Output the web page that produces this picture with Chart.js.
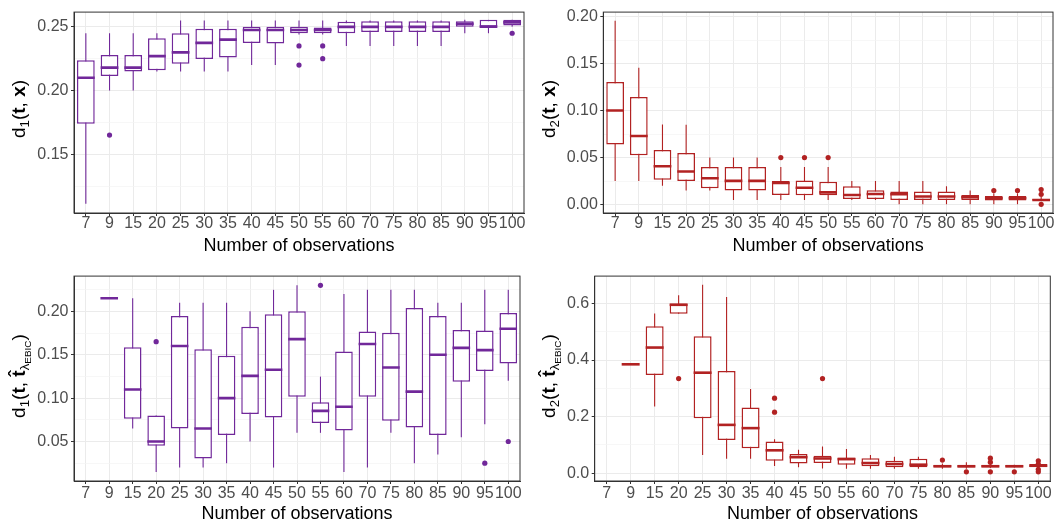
<!DOCTYPE html>
<html>
<head>
<meta charset="utf-8">
<script src="https://cdn.jsdelivr.net/npm/chart.js@4/dist/chart.umd.min.js"></script>
<style>
body { margin: 0; background: #fff; }
#wrap { position: relative; width: 1057px; height: 528px; }
canvas { position: absolute; }
.yt {
  position: absolute; white-space: nowrap; color: #000;
  font-family: "Liberation Sans", Arial, sans-serif; font-size: 19px;
  transform: translate(-50%, -50%) rotate(-90deg);
}
.yt sub { font-size: 0.7em; vertical-align: -0.3em; }
.yt sub sub { font-size: 0.75em; vertical-align: -0.2em; }
</style>
</head>
<body>
<div id="wrap">
  <canvas id="c1" width="528" height="264" style="left:0;top:0"></canvas>
  <canvas id="c2" width="529" height="264" style="left:528px;top:0"></canvas>
  <canvas id="c3" width="528" height="264" style="left:0;top:264px"></canvas>
  <canvas id="c4" width="529" height="264" style="left:528px;top:264px"></canvas>
  <div class="yt" style="left:20px;top:109px">d<sub>1</sub>(<b>t</b>, <b>x</b>)</div>
  <div class="yt" style="left:550px;top:109px">d<sub>2</sub>(<b>t</b>, <b>x</b>)</div>
  <div class="yt" style="left:20px;top:376px">d<sub>1</sub>(<b>t</b>, <b>t&#770;</b><sub>λ<sub>EBIC</sub></sub>)</div>
  <div class="yt" style="left:550px;top:376px">d<sub>2</sub>(<b>t</b>, <b>t&#770;</b><sub>λ<sub>EBIC</sub></sub>)</div>
</div>
<script>
var cats = ['7', '9', '15', '20', '25', '30', '35', '40', '45', '50', '55', '60', '70', '75', '80', '85', '90', '95', '100'];

// d1(t, x)
var d1xLo  = [0.111, 0.200, 0.200, 0.215, 0.215, 0.215, 0.215, 0.220, 0.220, 0.244, 0.244, 0.235, 0.235, 0.235, 0.235, 0.235, 0.245, 0.245, 0.250];
var d1xQ1  = [0.174, 0.2114, 0.215, 0.216, 0.221, 0.2247, 0.226, 0.2374, 0.237, 0.245, 0.245, 0.245, 0.246, 0.246, 0.246, 0.246, 0.250, 0.250, 0.251];
var d1xMed = [0.210, 0.218, 0.218, 0.227, 0.230, 0.2374, 0.240, 0.2475, 0.2475, 0.2475, 0.2475, 0.250, 0.250, 0.250, 0.250, 0.250, 0.2525, 0.2502, 0.2535];
var d1xQ3  = [0.2237, 0.228, 0.228, 0.241, 0.245, 0.2485, 0.2485, 0.250, 0.250, 0.250, 0.2495, 0.254, 0.2545, 0.2545, 0.2545, 0.2545, 0.2545, 0.2555, 0.2555];
var d1xHi  = [0.245, 0.245, 0.245, 0.245, 0.255, 0.255, 0.255, 0.255, 0.255, 0.255, 0.255, 0.255, 0.255, 0.255, 0.255, 0.255, 0.2555, 0.2555, 0.2555];
var d1xOutCat = ['9', '50', '50', '55', '55', '100'];
var d1xOutVal = [0.165, 0.235, 0.220, 0.235, 0.225, 0.245];

// d2(t, x)
var d2xLo  = [0.025, 0.025, 0.020, 0.015, 0.015, 0.005, 0.005, 0.005, 0.005, 0.005, 0.005, 0.005, 0.0005, 0.0005, 0.0005, 0.0005, 0.0005, 0.0005, 0.004];
var d2xQ1  = [0.064, 0.0524, 0.0264, 0.025, 0.0175, 0.015, 0.015, 0.0103, 0.010, 0.010, 0.006, 0.006, 0.005, 0.005, 0.005, 0.005, 0.0045, 0.0045, 0.0045];
var d2xMed = [0.100, 0.073, 0.0408, 0.0353, 0.028, 0.0253, 0.0253, 0.023, 0.018, 0.013, 0.0103, 0.0113, 0.011, 0.0086, 0.0086, 0.0079, 0.0068, 0.0068, 0.005];
var d2xQ3  = [0.1305, 0.1144, 0.058, 0.055, 0.040, 0.040, 0.040, 0.025, 0.0257, 0.0243, 0.0195, 0.0154, 0.014, 0.014, 0.014, 0.0103, 0.0092, 0.0092, 0.006];
var d2xHi  = [0.1955, 0.1455, 0.0853, 0.085, 0.050, 0.050, 0.050, 0.040, 0.040, 0.040, 0.025, 0.025, 0.025, 0.025, 0.0195, 0.015, 0.012, 0.012, 0.008];
var d2xOutCat = ['40', '45', '50', '90', '95', '100', '100', '100'];
var d2xOutVal = [0.050, 0.050, 0.050, 0.015, 0.015, 0.016, 0.011, 0.0003];

// d1(t, t_hat lambda EBIC)
var d1eLo  = [null, 0.215, 0.065, 0.015, 0.020, 0.020, 0.025, 0.050, 0.020, 0.060, 0.060, 0.015, 0.020, 0.060, 0.025, 0.035, 0.055, 0.070, 0.120];
var d1eQ1  = [null, 0.215, 0.0763, 0.0451, 0.065, 0.0305, 0.0575, 0.0816, 0.0778, 0.1015, 0.0714, 0.0628, 0.1015, 0.074, 0.0662, 0.0575, 0.1188, 0.1312, 0.1398];
var d1eMed = [null, 0.215, 0.110, 0.050, 0.160, 0.065, 0.100, 0.1256, 0.1327, 0.168, 0.0853, 0.090, 0.1624, 0.1353, 0.1075, 0.150, 0.1579, 0.1553, 0.180];
var d1eQ3  = [null, 0.215, 0.1586, 0.080, 0.1947, 0.1564, 0.1489, 0.1823, 0.1966, 0.200, 0.0951, 0.1538, 0.1767, 0.1752, 0.2038, 0.1947, 0.1786, 0.1778, 0.1981];
var d1eHi  = [null, 0.215, 0.215, 0.080, 0.210, 0.210, 0.210, 0.200, 0.2248, 0.230, 0.1248, 0.2199, 0.2248, 0.2248, 0.2248, 0.2098, 0.210, 0.2248, 0.2248];
var d1eOutCat = ['20', '55', '95', '100'];
var d1eOutVal = [0.165, 0.230, 0.025, 0.050];

// d2(t, t_hat lambda EBIC)
var d2eLo  = [null, 0.385, 0.2354, 0.564, 0.0646, 0.0508, 0.0508, 0.0254, 0.0208, 0.0162, 0.016, 0.016, 0.016, 0.016, 0.016, 0.016, 0.018, 0.020, 0.018];
var d2eQ1  = [null, 0.385, 0.3474, 0.564, 0.1939, 0.1177, 0.0877, 0.0439, 0.0346, 0.0358, 0.030, 0.0242, 0.0208, 0.0208, 0.0208, 0.0208, 0.0208, 0.0208, 0.0208];
var d2eMed = [null, 0.385, 0.4443, 0.5955, 0.3554, 0.1708, 0.1593, 0.0808, 0.0565, 0.052, 0.0496, 0.0358, 0.0323, 0.030, 0.0242, 0.024, 0.0242, 0.0242, 0.0265];
var d2eQ3  = [null, 0.385, 0.5193, 0.600, 0.4847, 0.3612, 0.232, 0.112, 0.068, 0.0612, 0.0554, 0.053, 0.0439, 0.0508, 0.030, 0.030, 0.030, 0.030, 0.0323];
var d2eHi  = [null, 0.385, 0.5643, 0.629, 0.666, 0.623, 0.2977, 0.120, 0.0831, 0.0946, 0.0854, 0.0646, 0.0577, 0.0577, 0.034, 0.039, 0.034, 0.030, 0.036];
var d2eOutCat = ['20', '40', '40', '50', '80', '85', '90', '90', '90', '95', '100', '100', '100', '100'];
var d2eOutVal = [0.3347, 0.2654, 0.2158, 0.3347, 0.0462, 0.0046, 0.053, 0.039, 0.0046, 0.0046, 0.0439, 0.0323, 0.0139, 0.0046];

// y axis ticks
var d1xTicks = [0.15, 0.20, 0.25];
var d1xTickLabels = ['0.15', '0.20', '0.25'];
var d1xMinor = [0.125, 0.175, 0.225];
var d2xTicks = [0, 0.05, 0.10, 0.15, 0.20];
var d2xTickLabels = ['0.00', '0.05', '0.10', '0.15', '0.20'];
var d2xMinor = [0.025, 0.075, 0.125, 0.175];
var d1eTicks = [0.05, 0.10, 0.15, 0.20];
var d1eTickLabels = ['0.05', '0.10', '0.15', '0.20'];
var d1eMinor = [0.025, 0.075, 0.125, 0.175, 0.225];
var d2eTicks = [0, 0.2, 0.4, 0.6];
var d2eTickLabels = ['0.0', '0.2', '0.4', '0.6'];
var d2eMinor = [0.1, 0.3, 0.5];

var purple = '#71289a';
var red = '#b22222';
Chart.defaults.font.family = '"Liberation Sans", Arial, sans-serif';

var frame = {
  id: 'frame',
  afterDatasetsDraw: function(chart) {
    var a = chart.chartArea, c = chart.ctx;
    c.save();
    c.strokeStyle = '#333';
    c.lineWidth = 1;
    c.strokeRect(a.left, a.top, a.right - a.left, a.bottom - a.top);
    c.restore();
  }
};

function makePanel(id, p) {
  var canvas = document.getElementById(id);
  var H = canvas.height, W = canvas.width;
  function isMajor(v) {
    return p.ticks.some(function(m) { return Math.abs(m - v) < 1e-9; });
  }
  var yTicks = p.ticks.concat(p.minor).sort(function(a, b) { return a - b; });
  var whisk = cats.map(function(c, i) { return p.lo[i] == null ? null : [p.lo[i], p.hi[i]]; });
  var boxes = cats.map(function(c, i) { return p.q1[i] == null ? null : [p.q1[i], p.q3[i]]; });
  var outl = p.outCat.map(function(c, i) { return {x: c, y: p.outVal[i]}; });

  return new Chart(canvas.getContext('2d'), {
    type: 'bar',
    data: {
      labels: cats,
      datasets: [
        {type: 'bar', data: whisk, backgroundColor: p.color, barThickness: 1.1, inflateAmount: 0, grouped: false, order: 3},
        {type: 'bar', data: boxes, backgroundColor: '#fff', borderColor: p.color, borderWidth: 1.5,
         borderSkipped: false, barPercentage: 0.75, categoryPercentage: 1, grouped: false, order: 2},
        {type: 'line', data: p.med, showLine: false, pointStyle: 'line',
         pointRadius: function(ctx) { return ctx.chart.scales.x.width / cats.length * 0.375; },
         pointBorderColor: p.color, pointBorderWidth: 2.6, order: 1},
        {type: 'line', data: outl, showLine: false, pointRadius: 2.6,
         pointBackgroundColor: p.color, pointBorderWidth: 0, order: 0}
      ]
    },
    options: {
      responsive: false,
      animation: false,
      events: [],
      layout: {padding: {left: 0, top: p.top, right: W - p.right, bottom: 0}},
      plugins: {legend: {display: false}, tooltip: {enabled: false}},
      scales: {
        x: {
          offset: true,
          grid: {offset: false, color: '#ebebeb', tickColor: '#333', tickLength: 3},
          border: {color: '#333', width: 1},
          ticks: {color: '#4d4d4d', font: {size: 16, lineHeight: 1}, padding: p.xpad, autoSkip: false, maxRotation: 0},
          title: {display: true, text: 'Number of observations', color: '#000', font: {size: 18}, padding: {top: 0, bottom: p.tpad}},
          afterFit: function(s) { s.height = H - p.bottom; }
        },
        y: {
          min: p.min,
          max: p.max,
          afterBuildTicks: function(s) { s.ticks = yTicks.map(function(v) { return {value: v}; }); },
          ticks: {
            color: '#4d4d4d', font: {size: 16}, padding: 2.5, autoSkip: false,
            callback: function(v) {
              for (var i = 0; i < p.ticks.length; i++) {
                if (Math.abs(p.ticks[i] - v) < 1e-9) return p.tickLabels[i];
              }
              return '';
            }
          },
          grid: {
            color: function(ctx) { return ctx.tick && isMajor(ctx.tick.value) ? '#ebebeb' : '#f3f3f3'; },
            lineWidth: function(ctx) { return ctx.tick && isMajor(ctx.tick.value) ? 1 : 0.7; },
            tickColor: function(ctx) { return ctx.tick && isMajor(ctx.tick.value) ? '#333' : 'rgba(0,0,0,0)'; },
            tickLength: 3
          },
          border: {color: '#333', width: 1},
          afterFit: function(s) { s.width = p.left; }
        }
      }
    },
    plugins: [frame]
  });
}

makePanel('c1', {color: purple, lo: d1xLo, q1: d1xQ1, med: d1xMed, q3: d1xQ3, hi: d1xHi,
  outCat: d1xOutCat, outVal: d1xOutVal, min: 0.1038, max: 0.2616,
  ticks: d1xTicks, tickLabels: d1xTickLabels, minor: d1xMinor,
  left: 74, right: 525.7, top: 4.7, bottom: 213, xpad: 0, tpad: 7});

makePanel('c2', {color: red, lo: d2xLo, q1: d2xQ1, med: d2xMed, q3: d2xQ3, hi: d2xHi,
  outCat: d2xOutCat, outVal: d2xOutVal, min: -0.0089, max: 0.2047,
  ticks: d2xTicks, tickLabels: d2xTickLabels, minor: d2xMinor,
  left: 75.3, right: 525.7, top: 4.7, bottom: 213, xpad: 0, tpad: 7});

makePanel('c3', {color: purple, lo: d1eLo, q1: d1eQ1, med: d1eMed, q3: d1eQ3, hi: d1eHi,
  outCat: d1eOutCat, outVal: d1eOutVal, min: 0.0045, max: 0.2406,
  ticks: d1eTicks, tickLabels: d1eTickLabels, minor: d1eMinor,
  left: 74, right: 520, top: 7.7, bottom: 217, xpad: 2, tpad: 3});

makePanel('c4', {color: red, lo: d2eLo, q1: d2eQ1, med: d2eMed, q3: d2eQ3, hi: d2eHi,
  outCat: d2eOutCat, outVal: d2eOutVal, min: -0.0277, max: 0.697,
  ticks: d2eTicks, tickLabels: d2eTickLabels, minor: d2eMinor,
  left: 66.7, right: 522.3, top: 7.7, bottom: 217, xpad: 2, tpad: 3});
</script>
</body>
</html>
